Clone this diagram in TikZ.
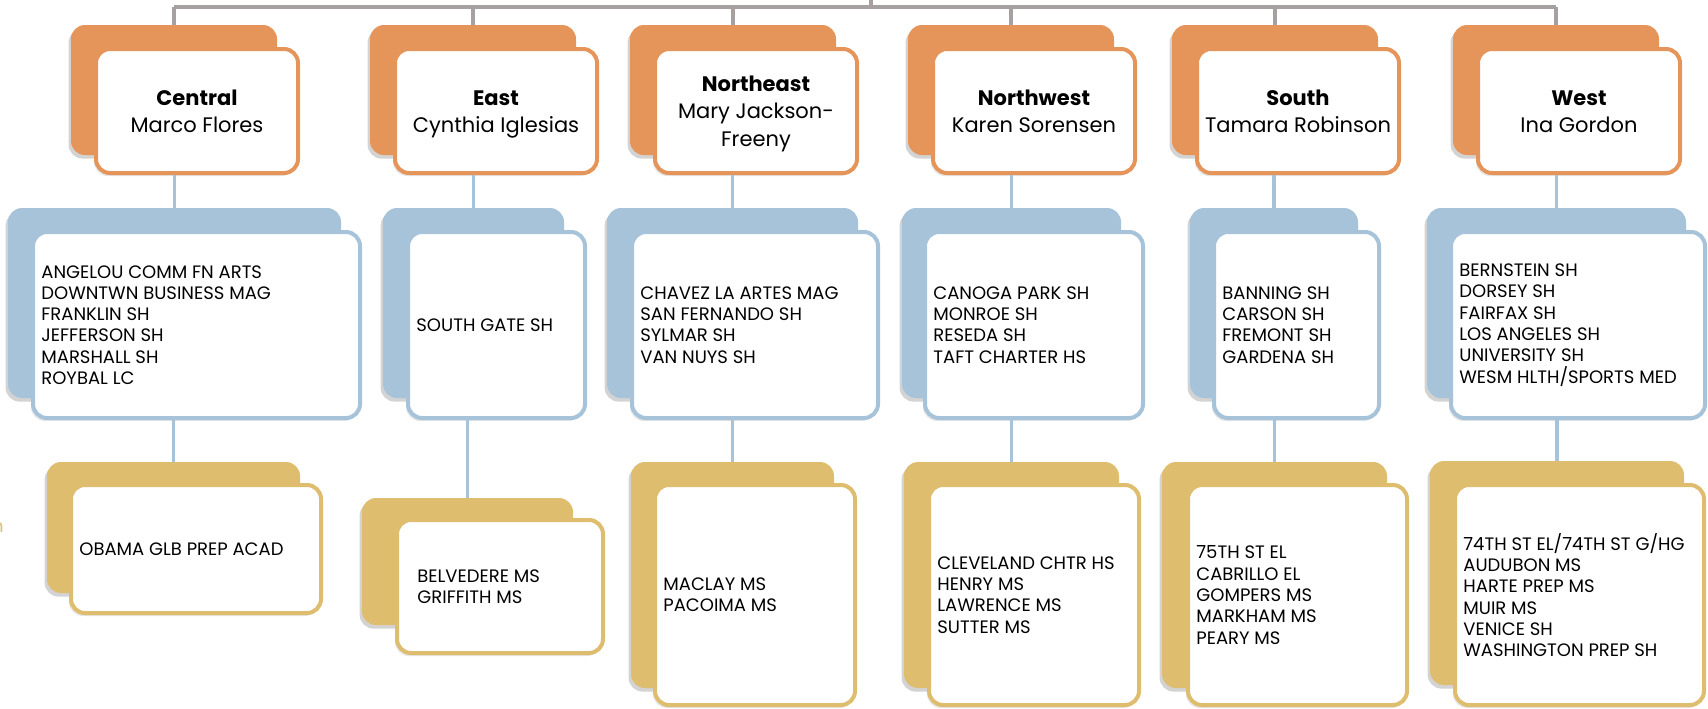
\documentclass[tikz,border=0pt]{standalone}
\usepackage{fontspec}
\setmainfont{Poppins}
\usetikzlibrary{fit,shadows}

\definecolor{orgorange}{RGB}{229,149,90}
\definecolor{orgblue}{RGB}{166,195,218}
\definecolor{orggold}{RGB}{223,189,111}
\definecolor{orggray}{RGB}{167,160,160}

\tikzset{
  backbox/.style={fill=#1, rounded corners=7pt, inner sep=0pt,
    drop shadow={shadow xshift=-1.2pt, shadow yshift=-1.8pt, opacity=.35}},
  frontbox/.style={draw=#1, fill=white, line width=2pt, rounded corners=7pt, inner sep=0pt,
    drop shadow={shadow xshift=-1pt, shadow yshift=-1.5pt, opacity=.2}},
  headtext/.style={align=center, inner sep=0pt, yshift=-1.2pt, font=\fontsize{10.5}{13.75}\selectfont},
  listtext/.style={anchor=west, align=left, inner sep=0pt, font=\fontsize{9}{10.65}\selectfont},
  graylink/.style={draw=orggray, line width=1.6pt},
  bluelink/.style={draw=orgblue, line width=1.6pt},
}

\begin{document}
\begin{tikzpicture}[x=0.5pt, y=-0.5pt]
\useasboundingbox (0,0) rectangle (1708,708);

% regions
\node[backbox=orgorange, fit={(71,25) (277,155)}] (Ob1) {};
\node[frontbox=orgorange, fit={(96,49) (298,173)}] (Of1) {};
\node[backbox=orgorange, fit={(370,25) (576,155)}] (Ob2) {};
\node[frontbox=orgorange, fit={(395,49) (597,173)}] (Of2) {};
\node[backbox=orgorange, fit={(630,25) (836,155)}] (Ob3) {};
\node[frontbox=orgorange, fit={(655,49) (857,173)}] (Of3) {};
\node[backbox=orgorange, fit={(908,25) (1114,155)}] (Ob4) {};
\node[frontbox=orgorange, fit={(933,49) (1135,173)}] (Of4) {};
\node[backbox=orgorange, fit={(1172,25) (1378,155)}] (Ob5) {};
\node[frontbox=orgorange, fit={(1197,49) (1399,173)}] (Of5) {};
\node[backbox=orgorange, fit={(1453,25) (1659,155)}] (Ob6) {};
\node[frontbox=orgorange, fit={(1478,49) (1680,173)}] (Of6) {};

\node[headtext] (H1) at (Of1) {\strut{\bfseries Central}\\\strut Marco Flores};
\node[headtext] (H2) at (Of2) {\strut{\bfseries East}\\\strut Cynthia Iglesias};
\node[headtext] (H3) at (Of3) {\strut{\bfseries Northeast}\\\strut Mary Jackson-\\\strut Freeny};
\node[headtext] (H4) at (Of4) {\strut{\bfseries Northwest}\\\strut Karen Sorensen};
\node[headtext] (H5) at (Of5) {\strut{\bfseries South}\\\strut Tamara Robinson};
\node[headtext] (H6) at (Of6) {\strut{\bfseries West}\\\strut Ina Gordon};

% high schools
\node[backbox=orgblue, fit={(8,208) (341,398)}] (Bb1) {};
\node[frontbox=orgblue, fit={(33,232) (360,418)}] (Bf1) {};
\node[backbox=orgblue, fit={(383,208) (564,398)}] (Bb2) {};
\node[frontbox=orgblue, fit={(408,232) (585,418)}] (Bf2) {};
\node[backbox=orgblue, fit={(607,208) (858,398)}] (Bb3) {};
\node[frontbox=orgblue, fit={(632,232) (878,418)}] (Bf3) {};
\node[backbox=orgblue, fit={(902,208) (1121,398)}] (Bb4) {};
\node[frontbox=orgblue, fit={(925,232) (1143,418)}] (Bf4) {};
\node[backbox=orgblue, fit={(1190,208) (1358,398)}] (Bb5) {};
\node[frontbox=orgblue, fit={(1214,232) (1379,418)}] (Bf5) {};
\node[backbox=orgblue, fit={(1427,208) (1686,398)}] (Bb6) {};
\node[frontbox=orgblue, fit={(1451,232) (1705,418)}] (Bf6) {};

\node[listtext] (S1) at ([xshift=5pt]Bf1.west) {ANGELOU COMM FN ARTS\\DOWNTWN BUSINESS MAG\\FRANKLIN SH\\JEFFERSON SH\\MARSHALL SH\\ROYBAL LC};
\node[listtext] (S2) at ([xshift=5pt]Bf2.west) {SOUTH GATE SH};
\node[listtext] (S3) at ([xshift=5pt]Bf3.west) {CHAVEZ LA ARTES MAG\\SAN FERNANDO SH\\SYLMAR SH\\VAN NUYS SH};
\node[listtext] (S4) at ([xshift=5pt]Bf4.west) {CANOGA PARK SH\\MONROE SH\\RESEDA SH\\TAFT CHARTER HS};
\node[listtext] (S5) at ([xshift=5pt]Bf5.west) {BANNING SH\\CARSON SH\\FREMONT SH\\GARDENA SH};
\node[listtext] (S6) at ([xshift=5pt]Bf6.west) {BERNSTEIN SH\\DORSEY SH\\FAIRFAX SH\\LOS ANGELES SH\\UNIVERSITY SH\\WESM HLTH/SPORTS MED};

% middle schools
\node[backbox=orggold, fit={(47,462) (300,593)}] (Gb1) {};
\node[frontbox=orggold, fit={(71,485) (321,613)}] (Gf1) {};
\node[backbox=orggold, fit={(362,498) (573,625)}] (Gb2) {};
\node[frontbox=orggold, fit={(397,520) (603,653)}] (Gf2) {};
\node[backbox=orggold, fit={(631,462) (834,688)}] (Gb3) {};
\node[frontbox=orggold, fit={(655,485) (855,705)}] (Gf3) {};
\node[backbox=orggold, fit={(904,462) (1119,688)}] (Gb4) {};
\node[frontbox=orggold, fit={(929,485) (1139,705)}] (Gf4) {};
\node[backbox=orggold, fit={(1162,462) (1387,688)}] (Gb5) {};
\node[frontbox=orggold, fit={(1188,485) (1407,705)}] (Gf5) {};
\node[backbox=orggold, fit={(1430,461) (1684,685)}] (Gb6) {};
\node[frontbox=orggold, fit={(1455,485) (1704,705)}] (Gf6) {};

\node[listtext] (M1) at ([xshift=5pt]Gf1.west) {OBAMA GLB PREP ACAD};
\node[listtext] (M2) at ([xshift=11pt]Gf2.west) {BELVEDERE MS\\GRIFFITH MS};
\node[listtext] (M3) at ([xshift=5pt]Gf3.west) {MACLAY MS\\PACOIMA MS};
\node[listtext] (M4) at ([xshift=5pt]Gf4.west) {CLEVELAND CHTR HS\\HENRY MS\\LAWRENCE MS\\SUTTER MS};
\node[listtext] (M5) at ([xshift=5pt]Gf5.west) {75TH ST EL\\CABRILLO EL\\GOMPERS MS\\MARKHAM MS\\PEARY MS};
\node[listtext] (M6) at ([xshift=5pt]Gf6.west) {74TH ST EL/74TH ST G/HG\\AUDUBON MS\\HARTE PREP MS\\MUIR MS\\VENICE SH\\WASHINGTON PREP SH};

\node[listtext, anchor=east, text=orggold] (cut) at (4,527) {n};

% connectors
\coordinate (root) at (871,0);
\coordinate (bar) at (871,7);
\draw[graylink] (root) -- (bar);
\draw[graylink] (Ob1.north |- bar) -- (Ob6.north |- bar);
\foreach \i in {1,...,6} {
  \draw[graylink] (Ob\i.north |- bar) -- (Ob\i.north);
  \draw[bluelink] (Bb\i.north |- Of\i.south) -- (Bb\i.north);
  \draw[bluelink] (Gb\i.north |- Bf\i.south) -- (Gb\i.north);
}
\end{tikzpicture}
\end{document}
